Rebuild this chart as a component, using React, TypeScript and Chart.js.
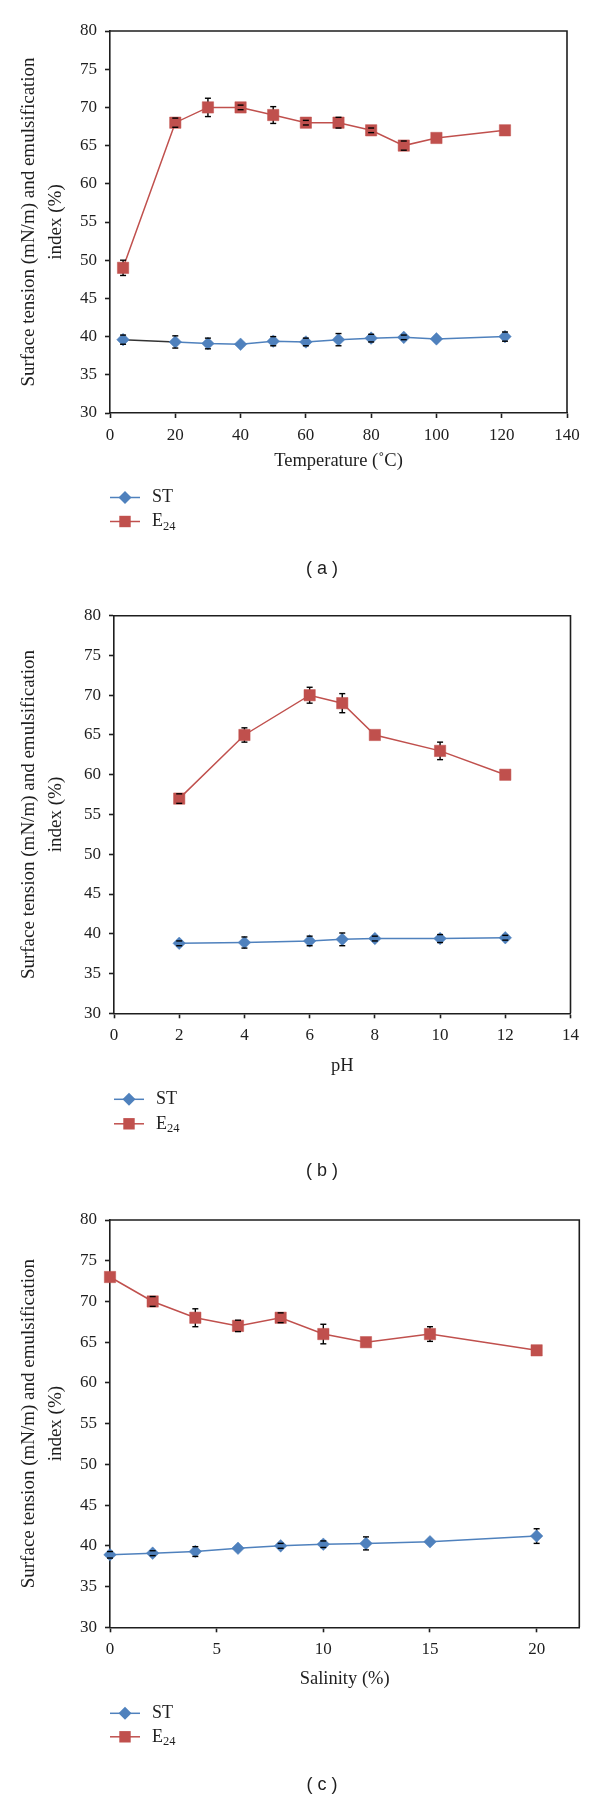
import React, { useEffect, useRef } from 'react';
import { Chart, registerables } from 'chart.js';

Chart.register(...registerables);

// ---------- DATA ----------
// (a) Temperature
const tempX = [4, 20, 30, 40, 50, 60, 70, 80, 90, 100, 121];
const tempST = [39.6, 39.3, 39.1, 39.0, 39.4, 39.3, 39.6, 39.8, 39.9, 39.7, 40.0];
const tempSTErr = [0.6, 0.8, 0.7, 0.1, 0.6, 0.5, 0.8, 0.5, 0.3, 0.1, 0.6];
const tempE24 = [49, 68, 70, 70, 69, 68, 68, 67, 65, 66, 67];
const tempE24Err = [1.0, 0.6, 1.2, 0.3, 1.1, 0.3, 0.7, 0.3, 0.6, 0.2, 0.2];

// (b) pH
const phX = [2, 4, 6, 7, 8, 10, 12];
const phST = [38.8, 38.9, 39.1, 39.3, 39.4, 39.4, 39.5];
const phSTErr = [0.3, 0.7, 0.6, 0.8, 0.3, 0.5, 0.3];
const phE24 = [57, 65, 70, 69, 65, 63, 60];
const phE24Err = [0.6, 0.9, 1.0, 1.2, 0.2, 1.1, 0.2];

// (c) Salinity
const salX = [0, 2, 4, 6, 8, 10, 12, 15, 20];
const salST = [38.9, 39.1, 39.3, 39.7, 40.0, 40.2, 40.3, 40.5, 41.2];
const salSTErr = [0.4, 0.3, 0.6, 0.1, 0.3, 0.4, 0.8, 0.2, 0.9];
const salE24 = [73, 70, 68, 67, 68, 66, 65, 66, 64];
const salE24Err = [0.2, 0.6, 1.1, 0.7, 0.6, 1.2, 0.2, 0.9, 0.2];

const yMin = 30;
const yMax = 80;
const yStep = 5;
const yTitle = ['Surface tension (mN/m) and emulsification', 'index (%)'];
const seriesNames = ['ST', 'E24'];

// ---------- STYLE / LAYOUT ----------
const BLUE = '#4F81BD';
const RED = '#C0504D';
const INK = '#1e1e1e';
const SERIF = "'Liberation Serif', 'Times New Roman', serif";
const SANS = "'Liberation Sans', Arial, sans-serif";
const W = 600;

type Panel = {
  top: number;
  height: number;
  area: { left: number; right: number; top: number; bottom: number };
  xs: number[];
  st: number[];
  stErr: number[];
  e24: number[];
  e24Err: number[];
  xMax: number;
  xStep: number;
  xTitle: string;
  label: string;
  darkFirst: boolean;
  offs: { title: number; leg1: number; leg2: number; label: number };
};

const panels: Panel[] = [
  {
    top: 0, height: 590,
    area: { left: 110, right: 567, top: 31, bottom: 413 },
    xs: tempX, st: tempST, stErr: tempSTErr, e24: tempE24, e24Err: tempE24Err,
    xMax: 140, xStep: 20, xTitle: 'Temperature (\u02DAC)', label: '( a )', darkFirst: true,
    offs: { title: 48.5, leg1: 84.5, leg2: 108.5, label: 156 },
  },
  {
    top: 590, height: 600,
    area: { left: 114, right: 570.5, top: 25.7, bottom: 423.3 },
    xs: phX, st: phST, stErr: phSTErr, e24: phE24, e24Err: phE24Err,
    xMax: 14, xStep: 2, xTitle: 'pH', label: '( b )', darkFirst: false,
    offs: { title: 53, leg1: 86, leg2: 110.5, label: 158 },
  },
  {
    top: 1190, height: 611,
    area: { left: 110, right: 579.3, top: 30, bottom: 437.3 },
    xs: salX, st: salST, stErr: salSTErr, e24: salE24, e24Err: salE24Err,
    xMax: 22, xStep: 5, xTitle: 'Salinity (%)', label: '( c )', darkFirst: false,
    offs: { title: 52, leg1: 86, leg2: 109.5, label: 158 },
  },
];

function drawMarker(ctx: CanvasRenderingContext2D, shape: string, x: number, y: number, color: string) {
  ctx.save();
  ctx.fillStyle = color;
  ctx.beginPath();
  if (shape === 'rectRot') {
    const r = 6.5;
    ctx.moveTo(x - r, y);
    ctx.lineTo(x, y - r);
    ctx.lineTo(x + r, y);
    ctx.lineTo(x, y + r);
    ctx.closePath();
  } else {
    const s = 5.7;
    ctx.rect(x - s, y - s, 2 * s, 2 * s);
  }
  ctx.fill();
  ctx.restore();
}

function PanelChart({ p }: { p: Panel }) {
  const ref = useRef<HTMLCanvasElement | null>(null);

  useEffect(() => {
    const canvas = ref.current;
    if (!canvas) return;
    const H = p.height;
    const errs = [p.stErr, p.e24Err];

    const boxPlugin = {
      id: 'box',
      afterDraw(chart: any) {
        const { ctx, chartArea: a } = chart;
        ctx.save();
        ctx.strokeStyle = INK;
        ctx.lineWidth = 1.6;
        ctx.beginPath();
        ctx.moveTo(a.left, a.top);
        ctx.lineTo(a.right, a.top);
        ctx.lineTo(a.right, a.bottom);
        ctx.stroke();
        ctx.restore();
      },
    };

    const errPlugin = {
      id: 'errbars',
      beforeDatasetsDraw(chart: any) {
        const { ctx } = chart;
        const xs = chart.scales.x;
        const ys = chart.scales.y;
        ctx.save();
        ctx.strokeStyle = '#000';
        ctx.lineWidth = 1.4;
        chart.data.datasets.forEach((ds: any, di: number) => {
          ds.data.forEach((pt: any, i: number) => {
            const e = errs[di][i];
            const px = xs.getPixelForValue(pt.x);
            ctx.beginPath();
            ctx.moveTo(px, ys.getPixelForValue(pt.y + e));
            ctx.lineTo(px, ys.getPixelForValue(pt.y - e));
            ctx.stroke();
          });
        });
        ctx.restore();
      },
      afterDatasetsDraw(chart: any) {
        const { ctx } = chart;
        const xs = chart.scales.x;
        const ys = chart.scales.y;
        ctx.save();
        ctx.strokeStyle = '#000';
        ctx.lineWidth = 1.4;
        chart.data.datasets.forEach((ds: any, di: number) => {
          ds.data.forEach((pt: any, i: number) => {
            const e = errs[di][i];
            if (e < 0.25) return;
            const px = xs.getPixelForValue(pt.x);
            [pt.y + e, pt.y - e].forEach((v) => {
              const py = ys.getPixelForValue(v);
              ctx.beginPath();
              ctx.moveTo(px - 3, py);
              ctx.lineTo(px + 3, py);
              ctx.stroke();
            });
          });
        });
        ctx.restore();
      },
    };

    const legendPlugin = {
      id: 'customLegend',
      afterDraw(chart: any) {
        const { ctx, chartArea: a } = chart;
        const items = [
          { color: BLUE, shape: 'rectRot', y: a.bottom + p.offs.leg1, name: seriesNames[0] },
          { color: RED, shape: 'rect', y: a.bottom + p.offs.leg2, name: seriesNames[1] },
        ];
        ctx.save();
        items.forEach((it) => {
          const x0 = a.left;
          ctx.strokeStyle = it.color;
          ctx.lineWidth = 1.5;
          ctx.beginPath();
          ctx.moveTo(x0, it.y);
          ctx.lineTo(x0 + 30, it.y);
          ctx.stroke();
          drawMarker(ctx, it.shape, x0 + 15, it.y, it.color);
          ctx.fillStyle = INK;
          ctx.textBaseline = 'middle';
          ctx.textAlign = 'left';
          ctx.font = `18px ${SERIF}`;
          const tx = x0 + 42;
          if (it.name === 'E24') {
            ctx.fillText('E', tx, it.y);
            const w = ctx.measureText('E').width;
            ctx.font = `12.5px ${SERIF}`;
            ctx.fillText('24', tx + w, it.y + 5);
          } else {
            ctx.fillText(it.name, tx, it.y);
          }
        });
        ctx.font = `18px ${SANS}`;
        ctx.textAlign = 'center';
        ctx.fillStyle = INK;
        ctx.fillText(p.label, 322, a.bottom + p.offs.label);
        ctx.restore();
      },
    };

    const tickFont = { family: SERIF, size: 17 };
    const gridOpts = {
      display: true,
      drawOnChartArea: false,
      drawTicks: true,
      tickLength: 5,
      tickWidth: 1.6,
      tickColor: INK,
    };
    const borderOpts = { display: true, color: INK, width: 1.6 };

    const chart = new Chart(canvas, {
      type: 'line',
      data: {
        datasets: [
          {
            label: seriesNames[0],
            data: p.xs.map((x, i) => ({ x, y: p.st[i] })),
            borderColor: BLUE,
            backgroundColor: BLUE,
            pointBackgroundColor: BLUE,
            pointBorderColor: BLUE,
            pointStyle: 'rectRot',
            pointRadius: 6.3,
            pointBorderWidth: 0.5,
            borderWidth: 1.5,
            tension: 0,
            clip: false,
            segment: p.darkFirst
              ? { borderColor: (c: any) => (c.p0DataIndex === 0 ? '#333333' : undefined) }
              : undefined,
          },
          {
            label: seriesNames[1],
            data: p.xs.map((x, i) => ({ x, y: p.e24[i] })),
            borderColor: RED,
            backgroundColor: RED,
            pointBackgroundColor: RED,
            pointBorderColor: RED,
            pointStyle: 'rect',
            pointRadius: 8,
            pointBorderWidth: 0.5,
            borderWidth: 1.5,
            tension: 0,
            clip: false,
          },
        ],
      } as any,
      options: {
        animation: false,
        responsive: false,
        devicePixelRatio: 1,
        events: [],
        layout: {
          padding: { left: 0, top: p.area.top, right: W - p.area.right, bottom: 0 },
        },
        plugins: {
          legend: { display: false },
          tooltip: { enabled: false },
        },
        scales: {
          x: {
            type: 'linear',
            min: 0,
            max: p.xMax,
            ticks: { stepSize: p.xStep, padding: 7, font: tickFont, color: INK, maxRotation: 0 },
            afterBuildTicks: (s: any) => {
              s.ticks = s.ticks.filter((t: any) => Math.abs(t.value / p.xStep - Math.round(t.value / p.xStep)) < 1e-6);
            },
            afterFit: (s: any) => {
              s.height = H - p.area.bottom;
            },
            grid: gridOpts,
            border: borderOpts,
            title: {
              display: true,
              text: p.xTitle,
              color: INK,
              font: { family: SERIF, size: 18.5, lineHeight: 1.2 },
              padding: { top: 0, bottom: H - p.area.bottom - p.offs.title - 11.1 },
            },
          },
          y: {
            type: 'linear',
            min: yMin,
            max: yMax,
            ticks: { stepSize: yStep, padding: 8, font: tickFont, color: INK },
            afterFit: (s: any) => {
              s.width = p.area.left;
            },
            grid: gridOpts,
            border: borderOpts,
            title: {
              display: true,
              text: yTitle,
              color: INK,
              font: { family: SERIF, size: 19, lineHeight: 1.42 },
              padding: { top: 15.5, bottom: 0 },
            },
          },
        },
      } as any,
      plugins: [boxPlugin, errPlugin, legendPlugin],
    });

    return () => chart.destroy();
  }, [p]);

  return (
    <div style={{ position: 'absolute', left: 0, top: p.top, width: W, height: p.height }}>
      <canvas ref={ref} width={W} height={p.height} style={{ width: W, height: p.height, display: 'block' }} />
    </div>
  );
}

export default function App() {
  return (
    <div style={{ position: 'absolute', left: 0, top: 0, width: W, height: 1801, background: '#fff' }}>
      {panels.map((p, i) => (
        <PanelChart key={i} p={p} />
      ))}
    </div>
  );
}
